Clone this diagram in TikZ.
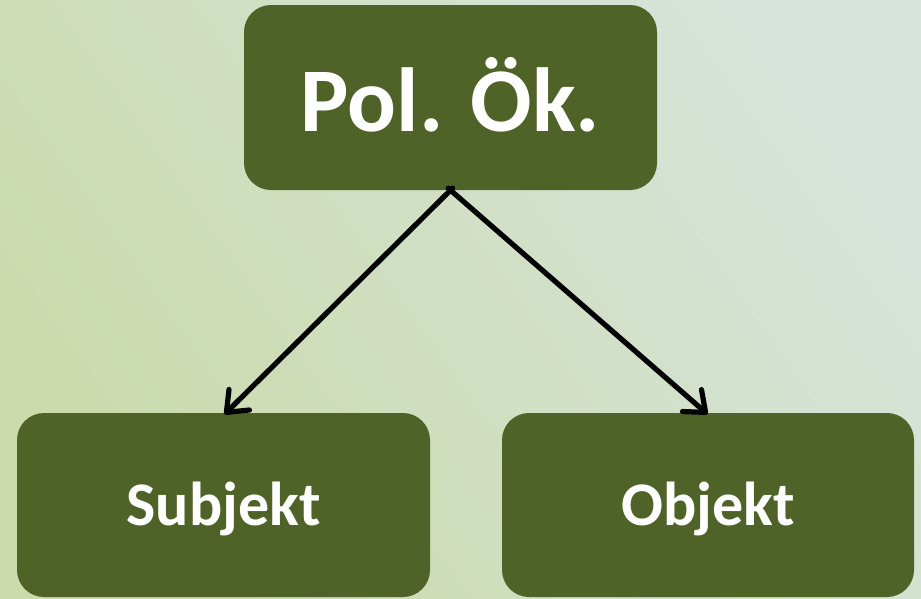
\documentclass[tikz,border=0pt]{standalone}
\usepackage{fontspec}
\setmainfont{Carlito}
\usetikzlibrary{arrows.meta}
\definecolor{boxgreen}{HTML}{4F6228}
\definecolor{bgA}{HTML}{CBDBAC}
\definecolor{bgB}{HTML}{D7E3DA}
\tikzset{
  gbox/.style={draw=none, fill=boxgreen, rounded corners=27pt, text=white,
    font=\bfseries, inner sep=0pt, align=center},
  link/.style={line width=5.2pt, line cap=round, black,
    -{Straight Barb[length=18pt, width=29pt, line width=5.2pt, round]}}
}
\begin{document}
\begin{tikzpicture}[x=1pt, y=-1pt]
  \useasboundingbox (0,0) rectangle (921,598);
  \shade[left color=bgA, right color=bgB, shading angle=125] (0,0) rectangle (921,598);
  \node[gbox, minimum width=413pt, minimum height=185pt, text height=67pt, text depth=0pt,
        font=\bfseries\fontsize{91}{91}\selectfont] (top) at (450.5,97.5) {Pol. Ök.};
  \node[gbox, minimum width=413pt, minimum height=184pt, text height=40pt, text depth=0pt,
        font=\bfseries\fontsize{62}{62}\selectfont] (subj) at (223.5,505) {Subjekt};
  \node[gbox, minimum width=412pt, minimum height=184pt, text height=40pt, text depth=0pt,
        font=\bfseries\fontsize{62}{62}\selectfont] (obj) at (708,505) {Objekt};
  \draw[link, shorten <=-3pt, shorten >=-2pt] (top.south) -- ([xshift=2.5pt]subj.north);
  \draw[link, shorten <=-3pt, shorten >=-2pt] (top.south) -- ([xshift=-2pt]obj.north);
\end{tikzpicture}
\end{document}
